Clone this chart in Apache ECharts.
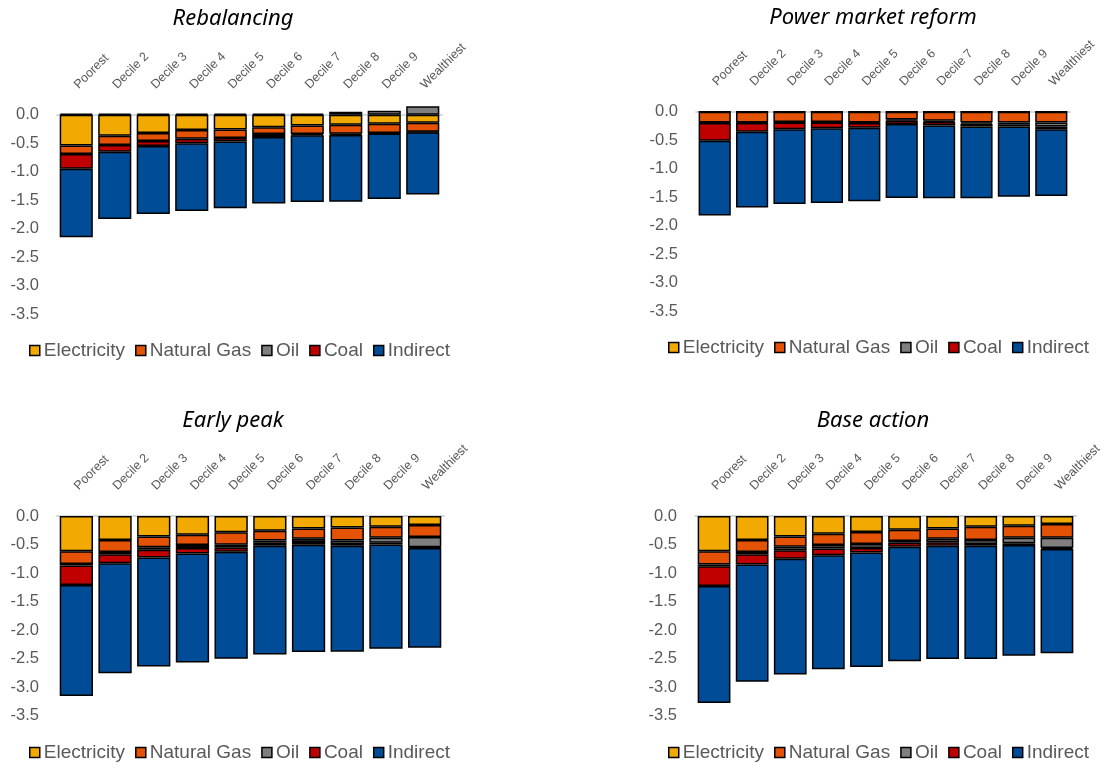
<!DOCTYPE html>
<html><head><meta charset="utf-8">
<script src="https://cdn.jsdelivr.net/npm/echarts@6/dist/echarts.min.js"></script>
<style>html,body{margin:0;padding:0;background:#fff}#c{width:1108px;height:770px}</style>
</head><body><div id="c"></div>
<script>
const categories = ['Poorest','Decile 2','Decile 3','Decile 4','Decile 5','Decile 6','Decile 7','Decile 8','Decile 9','Wealthiest'];
const seriesNames = ['Electricity','Natural Gas','Oil','Coal','Indirect'];
const panelTitles = ['Rebalancing','Power market reform','Early peak','Base action'];
const yTicks = [0,-0.5,-1,-1.5,-2,-2.5,-3,-3.5];

// Rebalancing
const rebElectricity = [-0.54,-0.37,-0.32,-0.27,-0.26,-0.22,-0.19,-0.175,-0.16,-0.14];
const rebNaturalGas  = [-0.15,-0.16,-0.14,-0.15,-0.15,-0.12,-0.15,-0.16,-0.16,-0.16];
const rebOil         = [0.02,0.02,0.02,0.02,0.02,0.02,0.02,0.05,0.07,0.15];
const rebCoal        = [-0.26,-0.12,-0.09,-0.08,-0.06,-0.05,-0.02,-0.02,-0.01,-0.01];
const rebIndirect    = [-1.20,-1.18,-1.19,-1.19,-1.17,-1.17,-1.17,-1.17,-1.15,-1.09];
// Power market reform
const pmrElectricity = [0,0,0,0,0,0,0,0,0,0];
const pmrNaturalGas  = [-0.19,-0.19,-0.18,-0.18,-0.19,-0.135,-0.16,-0.19,-0.19,-0.19];
const pmrOil         = [-0.01,-0.01,-0.01,-0.01,-0.01,-0.02,-0.02,-0.02,-0.03,-0.07];
const pmrCoal        = [-0.31,-0.15,-0.12,-0.10,-0.08,-0.06,-0.06,-0.05,-0.04,-0.05];
const pmrIndirect    = [-1.31,-1.33,-1.31,-1.31,-1.29,-1.30,-1.28,-1.26,-1.23,-1.17];
// Early peak
const epElectricity = [-0.62,-0.42,-0.36,-0.33,-0.285,-0.26,-0.22,-0.20,-0.19,-0.16];
const epNaturalGas  = [-0.22,-0.21,-0.19,-0.18,-0.22,-0.17,-0.18,-0.23,-0.19,-0.21];
const epOil         = [-0.03,-0.04,-0.04,-0.05,-0.05,-0.04,-0.055,-0.06,-0.09,-0.18];
const epCoal        = [-0.34,-0.16,-0.14,-0.10,-0.07,-0.05,-0.05,-0.03,-0.03,-0.01];
const epIndirect    = [-1.95,-1.93,-1.91,-1.91,-1.88,-1.91,-1.88,-1.86,-1.83,-1.75];
// Base action
const baElectricity = [-0.62,-0.42,-0.36,-0.31,-0.28,-0.24,-0.22,-0.19,-0.17,-0.14];
const baNaturalGas  = [-0.23,-0.21,-0.18,-0.20,-0.21,-0.20,-0.18,-0.23,-0.21,-0.24];
const baOil         = [-0.03,-0.04,-0.06,-0.06,-0.07,-0.03,-0.06,-0.07,-0.10,-0.18];
const baCoal        = [-0.35,-0.18,-0.15,-0.12,-0.08,-0.07,-0.06,-0.03,-0.03,-0.02];
const baIndirect    = [-2.05,-2.06,-2.03,-2.00,-2.01,-2.01,-1.99,-1.99,-1.94,-1.83];

const panelData = [
  [rebElectricity,rebNaturalGas,rebOil,rebCoal,rebIndirect],
  [pmrElectricity,pmrNaturalGas,pmrOil,pmrCoal,pmrIndirect],
  [epElectricity,epNaturalGas,epOil,epCoal,epIndirect],
  [baElectricity,baNaturalGas,baOil,baCoal,baIndirect]
];
const colors = ['#F2A900','#E35205','#7F7F7F','#C00000','#004C97'];

const grids = [
  {left:57, top:114.7, width:385, height:199.5},
  {left:696, top:111.7, width:374, height:199.5},
  {left:57, top:516, width:387, height:199.5},
  {left:695, top:516, width:381, height:199.5}
];
const titlePos = [
  {left:228, top:3}, {left:868, top:2}, {left:228, top:405}, {left:868, top:405}
];
const legendPos = [
  {left:29, top:341}, {left:668, top:338}, {left:29, top:743}, {left:668, top:743}
];

const option = {
  animation:false,
  color: colors,
  title: panelTitles.map((t,i)=>({
    text:t, left:titlePos[i].left, top:titlePos[i].top, textAlign:'center',
    textStyle:{fontFamily:'Noto Sans', fontStyle:'italic', fontWeight:'normal', fontSize:22, color:'#000'}
  })),
  legend: legendPos.map(p=>({
    data: seriesNames, left:p.left, top:p.top, itemWidth:10, itemHeight:10, itemGap:10,
    icon:'rect', padding:0,
    itemStyle:{borderColor:'#000', borderWidth:1.5},
    textStyle:{fontFamily:'Liberation Sans', fontSize:19, color:'#595959', padding:[0,0,0,-1]}
  })),
  grid: grids,
  xAxis: grids.map((g,i)=>({
    type:'category', gridIndex:i, data:categories, position:'top',
    axisLine:{show:true, onZero:false, lineStyle:{color:'#d9d9d9', width:2}},
    axisTick:{show:false},
    axisLabel:{rotate:-45, interval:0, fontFamily:'Liberation Sans', fontSize:12.5, color:'#595959', margin:28}
  })),
  yAxis: grids.map((g,i)=>({
    type:'value', gridIndex:i, min:-3.5, max:0, interval:0.5,
    axisLine:{show:false}, axisTick:{show:false}, splitLine:{show:false},
    axisLabel:{fontFamily:'Liberation Sans', fontSize:16.5, color:'#595959', margin:18,
      formatter:v=>v.toFixed(1)}
  })),
  series: []
};
panelData.forEach((arrs,pi)=>{
  arrs.forEach((arr,si)=>{
    option.series.push({
      name: seriesNames[si], type:'bar', stack:'p'+pi,
      xAxisIndex:pi, yAxisIndex:pi, data:arr, clip:false,
      barCategoryGap:'14%',
      itemStyle:{color:colors[si], borderColor:'#000', borderWidth:1.5}
    });
  });
});
const chart = echarts.init(document.getElementById('c'));
chart.setOption(option);
</script></body></html>
